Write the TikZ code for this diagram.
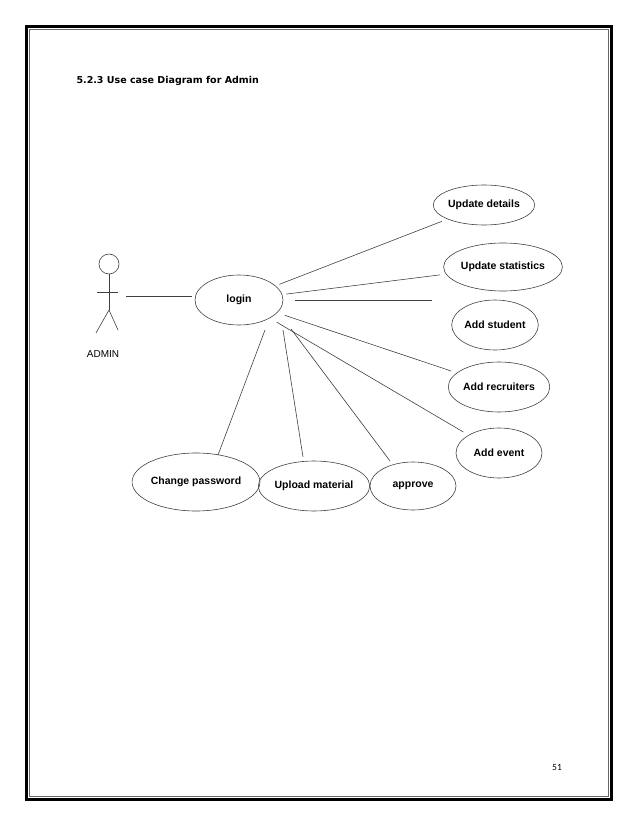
\documentclass[tikz,border=0pt]{standalone}
\usepackage{fontspec}
\setmainfont{Liberation Sans}
\newfontfamily\dejavu{DejaVu Sans}
\newfontfamily\carl{Carlito}
\usetikzlibrary{shapes.geometric}
\begin{document}
\begin{tikzpicture}[x=1pt,y=-1pt,
  uc/.style={draw=black!75,line width=0.6pt,ellipse,inner sep=0pt,font=\fontsize{10.5}{12}\selectfont\bfseries},
  ln/.style={draw=black!75,line width=0.6pt}]
\useasboundingbox (0,0) rectangle (638,826);
\draw[line width=3pt] (26.5,26.5) rectangle (611.5,799.5);
\draw[line width=0.5pt,black!60] (29.5,29.5) rectangle (608.5,796.5);
\node[anchor=west,font=\dejavu\fontsize{9.5}{11}\selectfont\bfseries] (title) at (73,81) {5.2.3 Use case Diagram for Admin};
\node[font=\carl\fontsize{9.5}{11}\selectfont] (pg) at (557,767) {51};
% actor
\draw[ln] (109,264) circle [radius=10];
\coordinate (neck) at (109,274);
\coordinate (hip) at (109,310);
\draw[ln] (neck) -- (hip);
\draw[ln] (97,292) -- (118,292);
\draw[ln] (hip) -- (96,333);
\draw[ln] (hip) -- (118,330);
\node[font=\fontsize{10}{12}\selectfont] (admin) at (103,354) {ADMIN};
% use cases
\node[uc,minimum width=88,minimum height=50] (login) at (239,300) {login};
\node[uc,minimum width=98,minimum height=40] (ud) at (484,205) {Update details};
\node[uc,minimum width=104,minimum height=48] (us) at (503,267) {Update statistics};
\node[uc,minimum width=86,minimum height=50] (as) at (495,325) {Add student};
\node[uc,minimum width=86,minimum height=50] (ar) at (499,387) {Add recruiters};
\node[uc,minimum width=86,minimum height=50] (ae) at (499,453) {Add event};
\node[uc,minimum width=106,minimum height=58] (cp) at (196,482) {Change password};
\node[uc,minimum width=94,minimum height=50] (um) at (314,486) {Upload material};
\node[uc,minimum width=86,minimum height=48] (ap) at (413,486) {approve};
\coordinate (aend) at (126,296);
\coordinate (asend) at (432,300);
\draw[ln] (aend) -- (192,296);
\draw[ln,shorten <=4,shorten >=6] (login) -- (ud);
\draw[ln,shorten <=4,shorten >=6] (login) -- (us);
\draw[ln] (295,300) -- (asend);
\draw[ln,shorten <=8,shorten >=6] (login) -- (ar);
\draw[ln,shorten <=8,shorten >=6] (login) -- (ae);
\draw[ln] (265,330) -- (218,455);
\draw[ln] (283,330) -- (303,457);
\draw[ln] (291,329) -- (390,461);
\end{tikzpicture}
\end{document}
